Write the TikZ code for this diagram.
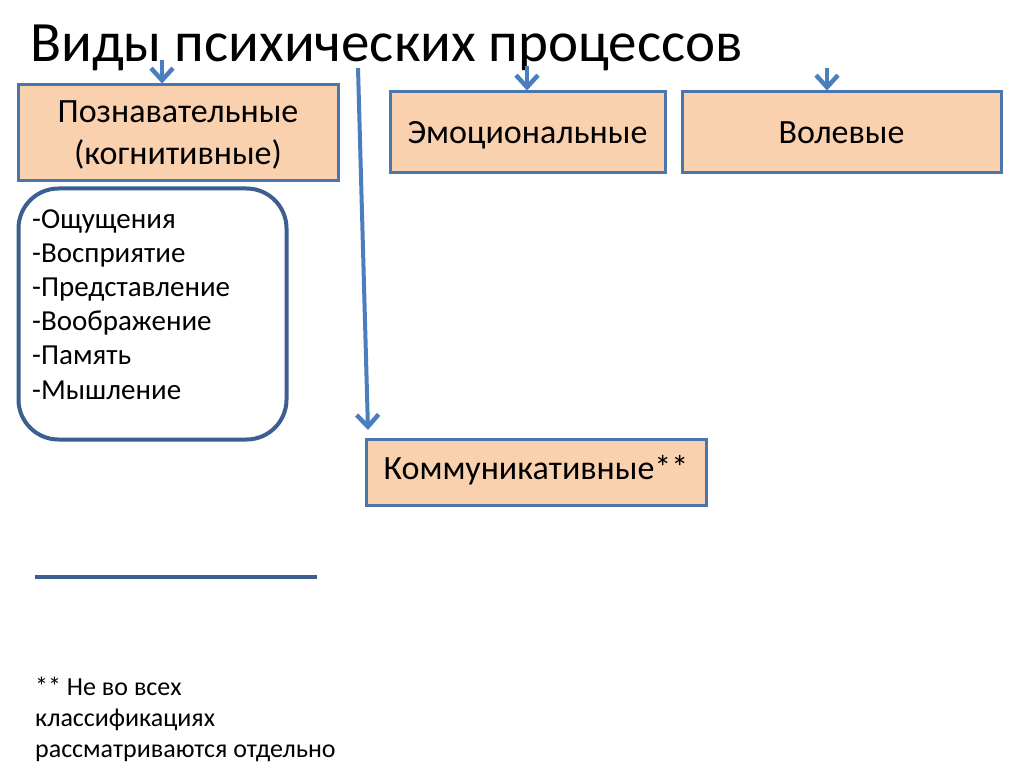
\documentclass[tikz,border=0pt]{standalone}
\usepackage{fontspec}
\setmainfont{Carlito}
\usetikzlibrary{arrows.meta,calc}
\definecolor{peach}{HTML}{FAD1AE}
\definecolor{boxline}{HTML}{4A76AE}
\definecolor{roundline}{HTML}{3D5F90}
\definecolor{arrowc}{HTML}{4A7EBE}
\tikzset{
  catbox/.style={draw=boxline, line width=3pt, fill=peach, align=center, inner sep=0pt, text height=30pt, text depth=8pt, font=\fontsize{34}{42}\selectfont},
  arr/.style={draw=arrowc, line width=4pt, -{Straight Barb[length=12pt,width=22pt,line width=4.5pt]}},
}
\begin{document}
\begin{tikzpicture}[x=1pt,y=-1pt]
\useasboundingbox[fill=white] (0,0) rectangle (1024,767);
\node[anchor=base west, font=\fontsize{57}{60}\selectfont, inner sep=0pt] (title) at (30,62) {Виды психических процессов};

\node[catbox, minimum width=320pt, minimum height=96pt, text height=, text depth=0pt] (p) at (178,133) {Познавательные\\(когнитивные)};
\node[catbox, minimum width=275pt, minimum height=81pt] (e) at (527.5,132.5) {Эмоциональные};
\node[catbox, minimum width=319pt, minimum height=81pt] (v) at (841.5,132.5) {Волевые};
\node[catbox, minimum width=340pt, minimum height=66pt, text height=26pt, text depth=12pt] (k) at (536,472) {Коммуникативные**};

\node[draw=roundline, line width=4pt, rounded corners=40pt, minimum width=268pt, minimum height=251pt, inner sep=0pt] (list) at (152.5,314) {};
\node[anchor=north west, align=left, inner sep=0pt, font=\fontsize{29}{34.2}\selectfont] (items) at (32,209) {-Ощущения\\-Восприятие\\-Представление\\-Воображение\\-Память\\-Мышление};

\coordinate (s1) at (162,60);
\coordinate (s3) at (527,66);
\coordinate (s4) at (827,68);
\coordinate (s2) at (358,68);
\coordinate (e2) at (368,430);
\draw[arr] (s1) -- (s1 |- p.north);
\draw[arr] (s3) -- (s3 |- e.north);
\draw[arr] (s4) -- (s4 |- v.north);
\draw[arr] (s2) -- (e2);

\coordinate (l1) at (35,577);
\coordinate (l2) at (317,577);
\draw[draw=roundline, line width=4pt] (l1) -- (l2);

\node[anchor=north west, align=left, inner sep=0pt, font=\fontsize{26}{31}\selectfont] (note) at (35,677) {** Не во всех\\классификациях\\рассматриваются отдельно};
\end{tikzpicture}
\end{document}
